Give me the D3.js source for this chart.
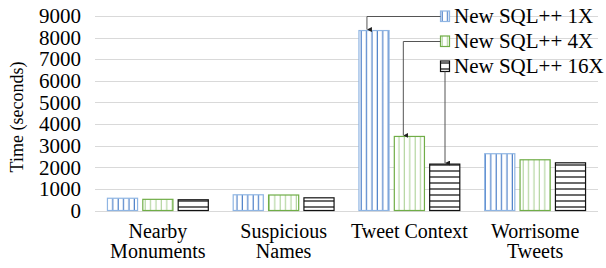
<!DOCTYPE html>
<html>
<head>
<meta charset="utf-8">
<style>
body { margin: 0; background: #fff; }
text { font-family: "Liberation Serif", "Times New Roman", serif; fill: #000; }
.grid line { stroke: #d9d9d9; stroke-width: 1; }
.lead { stroke: #555; stroke-width: 1; fill: none; }
</style>
<script src="https://d3js.org/d3.v7.min.js"></script>
</head>
<body>
<svg width="606" height="268"></svg>
<script>

var categories = [["Nearby", "Monuments"], ["Suspicious", "Names"], ["Tweet Context"], ["Worrisome", "Tweets"]];
var series = ["New SQL++ 1X", "New SQL++ 4X", "New SQL++ 16X"];
var values1x = [590, 750, 8350, 2650];
var values4x = [540, 740, 3450, 2370];
var values16x = [520, 610, 2170, 2230];
var yTicks = [0, 1000, 2000, 3000, 4000, 5000, 6000, 7000, 8000, 9000];

var svg = d3.select("svg");
var allValues = [values1x, values4x, values16x];

var x = d3.scaleBand().domain(d3.range(categories.length)).range([95, 598]).paddingInner(0.19).paddingOuter(0.095);
var xs = d3.scaleBand().domain(d3.range(series.length)).range([0, x.bandwidth()]).paddingInner(0.12);
var y = d3.scaleLinear().domain([0, 9000]).range([210.5, 16]);

// hatch patterns
var defs = svg.append("defs");
var styles = [
  {id: "p1", line: "#4f81c9", edge: "#8fb5e3", dir: "v", step: 5.4},
  {id: "p2", line: "#b5d6a2", edge: "#70ad47", dir: "v", step: 5.4},
  {id: "p3", line: "#5a5a5a", edge: "#111", dir: "h", step: 6}
];
styles.forEach(function(s) {
  var p = defs.append("pattern").attr("id", s.id).attr("patternUnits", "userSpaceOnUse")
      .attr("width", s.step).attr("height", s.step);
  p.append("rect").attr("width", s.step).attr("height", s.step).attr("fill", "#fff");
  if (s.dir == "v")
    p.append("line").attr("x1", s.step - 0.5).attr("x2", s.step - 0.5).attr("y1", 0).attr("y2", s.step)
      .attr("stroke", s.line).attr("stroke-width", 1.4);
  else
    p.append("line").attr("y1", s.step / 2).attr("y2", s.step / 2).attr("x1", 0).attr("x2", s.step)
      .attr("stroke", s.line).attr("stroke-width", 1.8);
});
defs.append("marker").attr("id", "arr").attr("viewBox", "0 0 6 6").attr("refX", 3).attr("refY", 6)
    .attr("markerWidth", 5).attr("markerHeight", 5).attr("orient", "auto-start-reverse")
    .append("path").attr("d", "M0,0L3,6L6,0Z").attr("fill", "#222");

// gridlines
svg.append("g").attr("class", "grid").selectAll("line").data(yTicks).enter().append("line")
    .attr("x1", 95).attr("x2", 598)
    .attr("y1", function(d) { return Math.round(y(d)) + 0.5; })
    .attr("y2", function(d) { return Math.round(y(d)) + 0.5; });

// y labels
var yAxis = svg.append("g").attr("transform", "translate(84,0)")
    .call(d3.axisLeft(y).tickValues(yTicks).tickFormat(d3.format("d")).tickSize(0).tickPadding(3));
yAxis.select(".domain").remove();
yAxis.selectAll("text").attr("font-size", 21).attr("font-family", "Liberation Serif").attr("fill", "#000");

svg.append("text").attr("transform", "translate(23,117) rotate(-90)").attr("text-anchor", "middle")
    .attr("font-size", 18).text("Time (seconds)");

// bars
series.forEach(function(s, i) {
  svg.append("g").selectAll("rect").data(allValues[i]).enter().append("rect")
      .attr("x", function(d, j) { return x(j) + xs(i) + 0.5; })
      .attr("y", function(d) { return y(d) + 0.5; })
      .attr("width", xs.bandwidth() - 1)
      .attr("height", function(d) { return y(0) - y(d) - 0.5; })
      .attr("fill", "url(#" + styles[i].id + ")")
      .attr("stroke", styles[i].edge).attr("stroke-width", 1.2);
});

// category labels, one text per line
categories.forEach(function(lines, j) {
  svg.append("g").selectAll("text").data(lines).enter().append("text")
      .attr("text-anchor", "middle").attr("font-size", 20)
      .attr("x", x(j) + x.bandwidth() / 2)
      .attr("y", function(d, k) { return 238 + k * 20; })
      .text(function(d) { return d; });
});

// legend with leader lines to the Tweet Context bars
var tc = 2;
var lx = 440, ly = [16, 41, 66];
var leg = svg.append("g");
series.forEach(function(s, i) {
  leg.append("rect").attr("x", lx + 0.5).attr("y", ly[i] - 5).attr("width", 9).attr("height", 10.5)
      .attr("fill", "url(#" + styles[i].id + ")").attr("stroke", styles[i].edge).attr("stroke-width", 1.2);
  leg.append("text").attr("x", lx + 14).attr("y", ly[i] + 7).attr("font-size", 21).text(s);
});
var bx = function(i) { return x(tc) + xs(i); };
leg.append("path").attr("class", "lead").attr("marker-end", "url(#arr)")
    .attr("d", "M" + (lx + 0.5) + "," + (ly[0] + 0.5) + "H" + (bx(0) + 8.5) + "V" + (y(values1x[tc]) - 0.5));
leg.append("path").attr("class", "lead").attr("marker-end", "url(#arr)")
    .attr("d", "M" + (lx + 0.5) + "," + (ly[1] + 0.5) + "H" + (bx(1) + 9.5) + "V" + (y(values4x[tc]) - 0.5));
leg.append("path").attr("class", "lead").attr("marker-end", "url(#arr)")
    .attr("d", "M" + (lx + 5) + "," + (ly[2] + 5.5) + "V" + (y(values16x[tc]) - 0.5));

</script>
</body>
</html>
